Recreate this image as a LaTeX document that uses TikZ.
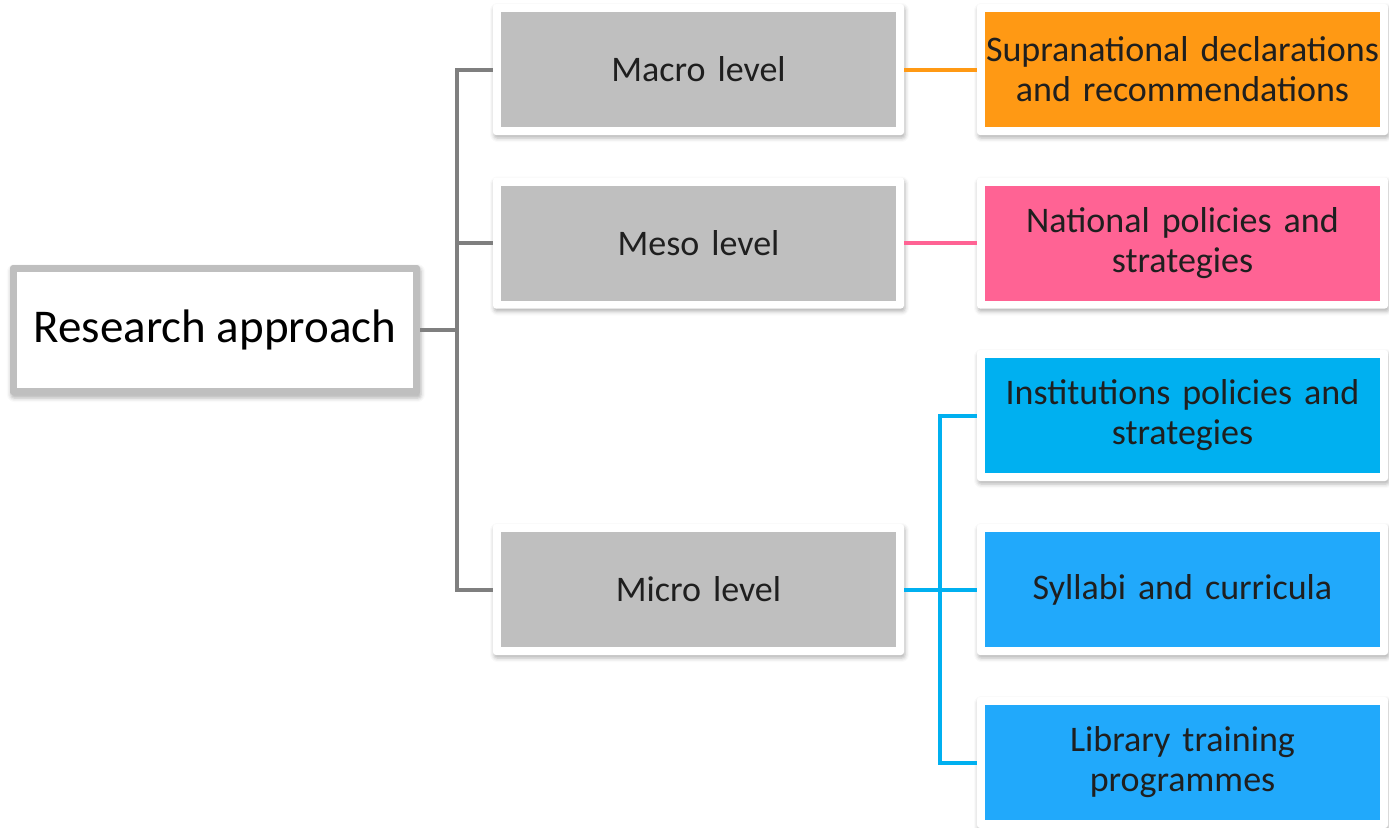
\documentclass[tikz,border=0pt]{standalone}
\usepackage{fontspec}
\setmainfont{Carlito}
\usetikzlibrary{shadows.blur}

\definecolor{framegray}{HTML}{BFBFBF}
\definecolor{levelgray}{HTML}{BFBFBF}
\definecolor{linkgray}{HTML}{7F7F7F}
\definecolor{supraorange}{HTML}{FF9914}
\definecolor{natpink}{HTML}{FF6394}
\definecolor{instblue}{HTML}{00B0F0}
\definecolor{lightblue}{HTML}{21A9FB}
\definecolor{textdark}{HTML}{1F1F1F}

\tikzset{
  softshadow/.style={blur shadow={shadow xshift=1pt, shadow yshift=-3pt,
      shadow blur radius=4pt, shadow opacity=30}},
  % white framed box with a coloured inner panel
  panel/.style={rectangle, rounded corners=3pt, fill=white, softshadow,
    minimum width=411pt, minimum height=131pt, inner sep=0pt,
    text width=396pt, align=center, text=textdark,
    font=\fontsize{36}{40}\selectfont,
    path picture={\fill[#1, sharp corners]
      ([shift={(8pt,8pt)}]path picture bounding box.south west) rectangle
      ([shift={(-8pt,-8pt)}]path picture bounding box.north east);}},
  rootbox/.style={rectangle, rounded corners=3pt, fill=framegray, softshadow,
    minimum width=410pt, minimum height=130pt, inner sep=0pt,
    align=center, text=black, font=\fontsize{47}{52}\selectfont,
    path picture={\fill[white, sharp corners]
      ([shift={(7pt,7pt)}]path picture bounding box.south west) rectangle
      ([shift={(-7pt,-7pt)}]path picture bounding box.north east);}},
  link/.style={line width=4pt, #1},
}

\begin{document}
\begin{tikzpicture}[x=1pt, y=-1pt]
  \useasboundingbox (0,0) rectangle (1389,827);

  % root and the three levels
  \node[rootbox] (root) at (215,330) {Research approach};
  \node[panel=levelgray] (macro) at (698.5,69.5) {Macro level};
  \node[panel=levelgray] (meso)  at (698.5,243)  {Meso level};
  \node[panel=levelgray] (micro) at (698.5,589.5) {Micro level};

  % documents examined at each level
  \node[panel=supraorange] (supra) at (1182.5,69.5) {Supranational declarations\\and recommendations};
  \node[panel=natpink]     (natl)  at (1182.5,243)  {National policies and\\strategies};
  \node[panel=instblue]    (inst)  at (1182.5,415.5) {Institutions policies and\\strategies};
  \node[panel=lightblue]   (syll)  at (1182.5,589.5) {Syllabi and curricula};
  \node[panel=lightblue]   (lib)   at (1182.5,762.5) {Library training\\programmes};

  % tree connectors
  \coordinate (j1) at (457,330);
  \coordinate (j2) at (940,589.5);
  \draw[link=linkgray] (root.east) -- (j1);
  \draw[link=linkgray] (j1) |- (macro.west);
  \draw[link=linkgray] (j1) |- (meso.west);
  \draw[link=linkgray] (j1) |- (micro.west);

  \draw[link=supraorange] (macro.east) -- (supra.west);
  \draw[link=natpink]     (meso.east) -- (natl.west);

  \draw[link=instblue] (micro.east) -- (j2);
  \draw[link=instblue] (j2) |- (inst.west);
  \draw[link=instblue] (j2) |- (syll.west);
  \draw[link=instblue] (j2) |- (lib.west);
\end{tikzpicture}
\end{document}
